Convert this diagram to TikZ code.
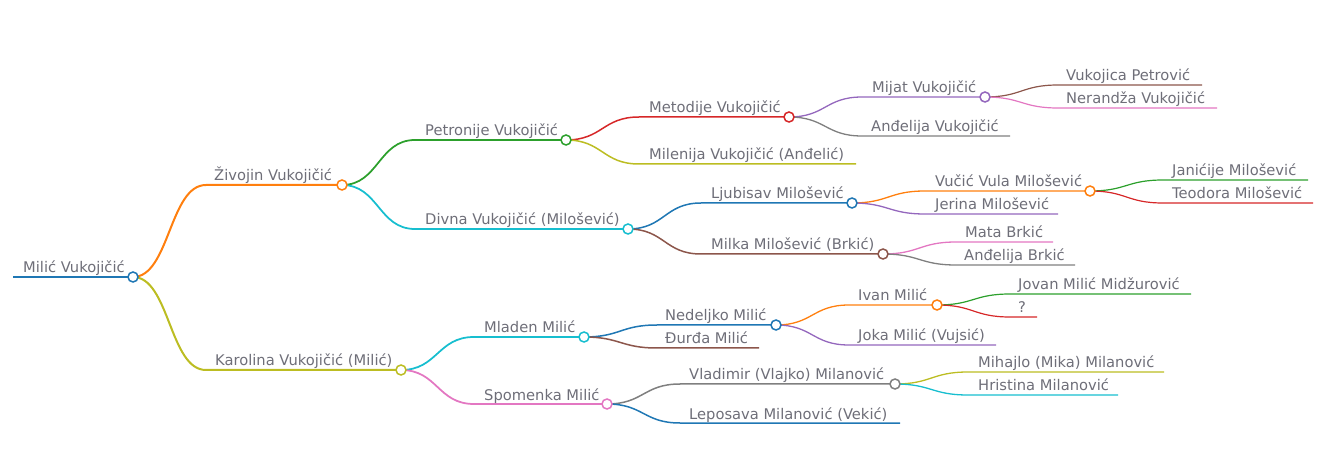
\documentclass[tikz,border=0pt]{standalone}
\usepackage{fontspec}
\setmainfont{DejaVu Sans}
\usetikzlibrary{calc}
\definecolor{cblue}{HTML}{1F77B4}
\definecolor{corange}{HTML}{FF7F0E}
\definecolor{cgreen}{HTML}{2CA02C}
\definecolor{cred}{HTML}{D62728}
\definecolor{cpurple}{HTML}{9467BD}
\definecolor{cbrown}{HTML}{8C564B}
\definecolor{cpink}{HTML}{E377C2}
\definecolor{cgrey}{HTML}{7F7F7F}
\definecolor{colive}{HTML}{BCBD22}
\definecolor{ccyan}{HTML}{17BECF}
\definecolor{txt}{RGB}{110,110,120}
\tikzset{
  lbl/.style={anchor=base west,inner sep=0pt,text=txt,font=\fontsize{14.7}{16}\selectfont},
  dot/.style={circle,draw=#1,fill=white,line width=1.5pt,minimum size=10pt,inner sep=0pt},
}
\newcommand\mmitem[9]{%
  \coordinate (#1s) at (#3,#5);
  \coordinate (#1e) at (#4,#5);
  \coordinate (#1m) at ($(#2e)!0.5!(#1s)$);
  \draw[#7,line width=#8pt] (#2e) .. controls (#2e -| #1m) and (#1s -| #1m) .. (#1s) -- (#1e);
  \node[lbl] (#1t) at (#6,#5-4) {#9};
}
\begin{document}
\begin{tikzpicture}[x=1pt,y=-1pt]
\useasboundingbox (0,0) rectangle (1334,454);
% root
\coordinate (roots) at (13,277);
\coordinate (roote) at (133,277);
\draw[cblue,line width=2.5pt] (roots) -- (roote);
\node[lbl] (roott) at (23,273) {Milić Vukojičić};
% level 1
\mmitem{ziv}{root}{206}{342}{185}{214}{corange}{2}{Živojin Vukojičić}
\mmitem{kar}{root}{206}{401}{370}{215}{colive}{2}{Karolina Vukojičić (Milić)}
% level 2
\mmitem{pet}{ziv}{415}{566}{140}{425}{cgreen}{1.75}{Petronije Vukojičić}
\mmitem{div}{ziv}{415}{628}{229}{425}{ccyan}{1.75}{Divna Vukojičić (Milošević)}
\mmitem{mla}{kar}{474}{584}{337}{484}{ccyan}{1.75}{Mladen Milić}
\mmitem{spo}{kar}{474}{607}{404}{484}{cpink}{1.75}{Spomenka Milić}
% level 3
\mmitem{met}{pet}{639}{789}{117}{649}{cred}{1.5}{Metodije Vukojičić}
\mmitem{mln}{pet}{639}{856}{164}{649}{colive}{1.5}{Milenija Vukojičić (Anđelić)}
\mmitem{lju}{div}{701}{852}{203}{711}{cblue}{1.5}{Ljubisav Milošević}
\mmitem{mil}{div}{701}{883}{254}{711}{cbrown}{1.5}{Milka Milošević (Brkić)}
\mmitem{ned}{mla}{657}{776}{325}{665}{cblue}{1.5}{Nedeljko Milić}
\mmitem{dju}{mla}{657}{759}{348}{665}{cbrown}{1.5}{Đurđa Milić}
\mmitem{vla}{spo}{680}{895}{384}{689}{cgrey}{1.5}{Vladimir (Vlajko) Milanović}
\mmitem{lep}{spo}{680}{900}{423}{689}{cblue}{1.5}{Leposava Milanović (Vekić)}
% level 4
\mmitem{mij}{met}{862}{985}{97}{872}{cpurple}{1.3}{Mijat Vukojičić}
\mmitem{anv}{met}{862}{1010}{136}{871}{cgrey}{1.3}{Anđelija Vukojičić}
\mmitem{vuc}{lju}{925}{1090}{191}{935}{corange}{1.3}{Vučić Vula Milošević}
\mmitem{jer}{lju}{925}{1058}{214}{935}{cpurple}{1.3}{Jerina Milošević}
\mmitem{mat}{mil}{956}{1053}{242}{965}{cpink}{1.3}{Mata Brkić}
\mmitem{anb}{mil}{956}{1075}{265}{964}{cgrey}{1.3}{Anđelija Brkić}
\mmitem{iva}{ned}{849}{937}{305}{858}{corange}{1.3}{Ivan Milić}
\mmitem{jok}{ned}{849}{996}{345}{858}{cpurple}{1.3}{Joka Milić (Vujsić)}
\mmitem{mih}{vla}{968}{1164}{372}{978}{colive}{1.3}{Mihajlo (Mika) Milanović}
\mmitem{hri}{vla}{968}{1118}{395}{978}{ccyan}{1.3}{Hristina Milanović}
% level 5
\mmitem{vkp}{mij}{1058}{1202}{85}{1066}{cbrown}{1.2}{Vukojica Petrović}
\mmitem{ner}{mij}{1058}{1217}{108}{1066}{cpink}{1.2}{Nerandža Vukojičić}
\mmitem{jan}{vuc}{1163}{1308}{180}{1172}{cgreen}{1.2}{Janićije Milošević}
\mmitem{teo}{vuc}{1163}{1313}{203}{1172}{cred}{1.2}{Teodora Milošević}
\mmitem{jov}{iva}{1010}{1191}{294}{1018}{cgreen}{1.2}{Jovan Milić Midžurović}
\mmitem{unk}{iva}{1010}{1037}{317}{1018}{cred}{1.2}{?}
% circles
\node[dot=cblue] (rootc) at (roote) {};
\node[dot=corange] (zivc) at (zive) {};
\node[dot=colive] (karc) at (kare) {};
\node[dot=cgreen] (petc) at (pete) {};
\node[dot=ccyan] (divc) at (dive) {};
\node[dot=ccyan] (mlac) at (mlae) {};
\node[dot=cpink] (spoc) at (spoe) {};
\node[dot=cred] (metc) at (mete) {};
\node[dot=cblue] (ljuc) at (ljue) {};
\node[dot=cbrown] (milc) at (mile) {};
\node[dot=cblue] (nedc) at (nede) {};
\node[dot=cgrey] (vlac) at (vlae) {};
\node[dot=cpurple] (mijc) at (mije) {};
\node[dot=corange] (vucc) at (vuce) {};
\node[dot=corange] (ivac) at (ivae) {};
\end{tikzpicture}
\end{document}
